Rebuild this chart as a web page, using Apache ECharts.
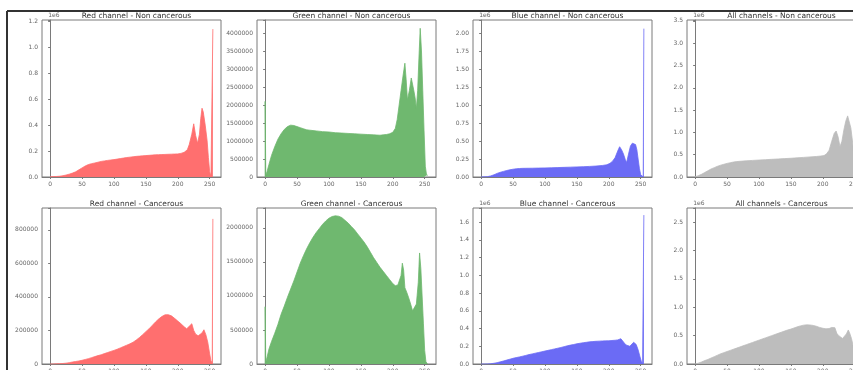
<!DOCTYPE html>
<html><head><meta charset="utf-8">
<script src="https://cdn.jsdelivr.net/npm/echarts@6/dist/echarts.min.js"></script>
<style>html,body{margin:0;padding:0;background:#fff;overflow:hidden;width:853px;height:370px}#c{width:853px;height:370px}</style>
</head><body><div id="c"></div>
<script>
// ---------- DATA (values in millions of pixels) ----------
const titles = ["Red channel - Non cancerous","Green channel - Non cancerous","Blue channel - Non cancerous","All channels - Non cancerous",
                "Red channel - Cancerous","Green channel - Cancerous","Blue channel - Cancerous","All channels - Cancerous"];
const xTicks = [0,50,100,150,200,250];

const redNcX = [0,5,10,15,20,25,30,35,40,45,50,55,60,65,70,75,80,85,90,95,100,105,110,115,120,125,130,135,140,145,150,155,160,165,170,175,180,185,190,195,200,205,210,215,218,222,225,228,231,234,236,238,240,243,246,248,250,252,254,255];
const redNcY = [0.002,0.003,0.004,0.006,0.01,0.015,0.022,0.03,0.04,0.055,0.07,0.085,0.096,0.103,0.108,0.114,0.12,0.124,0.128,0.131,0.134,0.138,0.142,0.146,0.15,0.153,0.156,0.159,0.161,0.163,0.165,0.167,0.169,0.171,0.172,0.173,0.174,0.175,0.176,0.177,0.178,0.182,0.19,0.21,0.25,0.33,0.41,0.32,0.26,0.33,0.45,0.53,0.5,0.4,0.28,0.15,0.04,0.005,0.002,1.14];

const greenNcX = [0,0,1,3,6,10,15,20,25,30,35,40,45,50,55,60,65,70,75,80,90,100,110,120,130,140,150,160,170,180,185,190,195,200,204,207,210,213,216,219,221,223,226,229,231,233,235,237,239,241,243,245,247,249,251,253,255];
const greenNcY = [0,2.1,0.05,0.15,0.35,0.6,0.84,1.05,1.2,1.32,1.4,1.44,1.43,1.4,1.37,1.34,1.31,1.3,1.29,1.28,1.26,1.25,1.23,1.22,1.21,1.2,1.19,1.18,1.17,1.16,1.17,1.18,1.2,1.24,1.35,1.6,2.0,2.4,2.8,3.16,2.7,2.14,2.4,2.75,2.79,2.4,2.2,1.9,2.4,3.3,4.13,3.5,2.4,1.3,0.3,0.05,0.05];

const blueNcX = [0,5,10,15,20,25,30,35,40,45,50,55,60,65,70,80,90,100,110,120,130,140,150,160,170,180,190,197,202,206,210,214,217,220,223,226,228,231,234,237,240,242,244,246,248,250,252,254,255];
const blueNcY = [0.001,0.002,0.005,0.015,0.03,0.05,0.065,0.078,0.09,0.1,0.108,0.114,0.118,0.12,0.121,0.122,0.124,0.126,0.128,0.131,0.134,0.137,0.14,0.143,0.147,0.152,0.16,0.17,0.19,0.22,0.27,0.36,0.42,0.38,0.32,0.24,0.2,0.32,0.43,0.47,0.49,0.45,0.38,0.25,0.12,0.03,0.005,0.002,2.06];

const allNcX = [0,5,10,15,20,25,30,35,40,45,50,55,60,65,70,80,90,100,110,120,130,140,150,160,170,180,190,197,202,206,210,214,218,221,224,227,230,233,236,239,241,244,247,250,252,254,255];
const allNcY = [0.005,0.03,0.06,0.1,0.14,0.18,0.21,0.24,0.265,0.285,0.305,0.32,0.335,0.345,0.352,0.362,0.372,0.38,0.388,0.396,0.404,0.412,0.42,0.43,0.44,0.45,0.46,0.47,0.48,0.52,0.6,0.8,0.98,1.03,0.9,0.68,0.8,1.05,1.25,1.37,1.33,1.1,0.75,0.3,0.05,0.01,3.35];

const redCX = [0,5,10,15,20,25,30,35,40,45,50,55,60,65,70,75,80,85,90,95,100,105,110,115,120,125,130,135,140,145,150,155,160,165,170,175,180,185,190,195,200,205,210,214,218,222,225,228,232,235,238,241,244,247,250,252,254,255];
const redCY = [0,0,0.001,0.002,0.003,0.005,0.008,0.012,0.015,0.018,0.022,0.027,0.032,0.038,0.044,0.05,0.055,0.062,0.068,0.075,0.081,0.088,0.096,0.104,0.112,0.12,0.13,0.143,0.158,0.175,0.193,0.21,0.23,0.25,0.268,0.283,0.293,0.294,0.287,0.272,0.256,0.24,0.222,0.21,0.225,0.24,0.2,0.178,0.168,0.162,0.185,0.204,0.175,0.13,0.06,0.02,0.005,0.865];

const greenCX = [0,0,1,3,6,10,15,20,25,30,35,40,45,50,55,60,65,70,75,80,85,90,95,100,105,110,115,120,125,130,135,140,145,150,155,160,165,170,175,180,185,190,195,200,204,208,211,213,215,217,219,222,225,228,231,234,237,240,242,244,246,248,250,252,254,255];
const greenCY = [0,0.84,0.03,0.1,0.22,0.33,0.45,0.58,0.73,0.85,0.98,1.1,1.22,1.35,1.48,1.59,1.69,1.78,1.86,1.93,1.99,2.05,2.1,2.14,2.165,2.175,2.17,2.15,2.11,2.07,2.02,1.97,1.91,1.85,1.79,1.72,1.64,1.56,1.49,1.42,1.36,1.3,1.24,1.18,1.15,1.16,1.18,1.3,1.48,1.38,1.12,1.05,0.97,0.88,0.78,0.76,0.88,1.2,1.63,1.4,1.0,0.6,0.2,0.03,0.01,0.01];

const blueCX = [0,5,10,15,20,25,30,35,40,45,50,55,60,65,70,75,80,85,90,95,100,105,110,115,120,125,130,135,140,145,150,155,160,165,170,175,180,185,190,195,200,205,210,214,217,219,221,224,227,230,233,236,239,241,243,246,249,251,253,254,255];
const blueCY = [0,0,0.001,0.003,0.008,0.015,0.024,0.034,0.044,0.054,0.064,0.072,0.08,0.088,0.097,0.106,0.114,0.122,0.13,0.138,0.146,0.154,0.162,0.17,0.178,0.186,0.196,0.205,0.213,0.22,0.228,0.234,0.24,0.245,0.25,0.253,0.256,0.258,0.26,0.261,0.262,0.265,0.268,0.272,0.282,0.285,0.27,0.24,0.215,0.205,0.2,0.215,0.245,0.25,0.22,0.16,0.08,0.03,0.005,0.002,1.68];

const allCX = [0,5,10,15,20,25,30,35,40,45,50,55,60,65,70,75,80,85,90,95,100,105,110,115,120,125,130,135,140,145,150,155,160,165,170,175,180,185,190,195,200,205,210,214,217,219,222,225,228,231,234,237,240,242,245,248,251,253,255];
const allCY = [0,0.015,0.035,0.06,0.08,0.105,0.13,0.155,0.18,0.2,0.22,0.24,0.26,0.28,0.3,0.32,0.34,0.36,0.38,0.4,0.42,0.44,0.46,0.48,0.5,0.52,0.54,0.56,0.58,0.6,0.615,0.635,0.655,0.672,0.685,0.69,0.688,0.68,0.665,0.645,0.63,0.62,0.625,0.645,0.665,0.64,0.54,0.5,0.47,0.45,0.47,0.53,0.6,0.55,0.45,0.3,0.1,0.02,2.6];

// y-axis settings per panel (max, interval, label style)
const yMax      = [1.21, 4.36, 2.18, 3.52, 0.93, 2.29, 1.76, 2.75];
const yInterval = [0.2, 0.5, 0.25, 0.5, 0.2, 0.5, 0.2, 0.5];
const yDecimals = [1, -1, 2, 1, -1, -1, 1, 1]; // -1 => plain integer counts, else 1e6 offset

// ---------- LAYOUT ----------
const seriesX = [redNcX, greenNcX, blueNcX, allNcX, redCX, greenCX, blueCX, allCX];
const seriesY = [redNcY, greenNcY, blueNcY, allNcY, redCY, greenCY, blueCY, allCY];
const colors = ['#ff6f6f','#6fb86f','#6b6bf5','#bdbdbd','#ff6f6f','#6fb86f','#6b6bf5','#bdbdbd'];
const lefts = [42, 257, 473, 687];
const tops = [20, 208];
const heights = [157, 156];
const W = 179;
const FONT = 'DejaVu Sans';

const grids = [], xAxes = [], yAxes = [], series = [], titleArr = [];
for (let i = 0; i < 8; i++) {
  const r = Math.floor(i / 4), c = i % 4;
  grids.push({left: lefts[c], top: tops[r], width: W, height: heights[r], show: true,
    borderColor: '#7a7a7a', borderWidth: 1, containLabel: false, outerBoundsMode: 'none'});
  xAxes.push({type: 'value', gridIndex: i, min: -12.75, max: 267.75,
    splitLine: {show: false},
    axisLine: {lineStyle: {color: '#7a7a7a'}},
    axisTick: {length: 2, lineStyle: {color: '#7a7a7a'}, customValues: xTicks},
    axisLabel: {fontSize: 6, fontFamily: FONT, color: '#666', margin: 4, customValues: xTicks,
      formatter: v => String(Math.round(v))}});
  const iv = yInterval[i], dec = yDecimals[i];
  yAxes.push({type: 'value', gridIndex: i, min: 0, max: yMax[i], interval: iv,
    splitLine: {show: false},
    axisLine: {show: true, lineStyle: {color: '#7a7a7a'}},
    axisTick: {show: true, length: 2, lineStyle: {color: '#7a7a7a'}},
    name: dec >= 0 ? '1e6' : '', nameLocation: 'end', nameGap: 2,
    nameTextStyle: {fontSize: 6, fontFamily: FONT, color: '#666', align: 'left', padding: [0,0,0,-2]},
    axisLabel: {fontSize: 6, fontFamily: FONT, color: '#666', margin: 4,
      formatter: v => {
        const k = v / iv;
        if (Math.abs(k - Math.round(k)) > 1e-6) return '';
        return dec < 0 ? String(Math.round(v * 1e6)) : v.toFixed(dec);
      }}});
  series.push({type: 'line', xAxisIndex: i, yAxisIndex: i, showSymbol: false, symbol: 'none',
    data: seriesX[i].map((x, j) => [x, seriesY[i][j]]),
    lineStyle: {width: 0.8, color: colors[i]}, itemStyle: {color: colors[i]},
    areaStyle: {color: colors[i], opacity: 1}, clip: true, silent: true, animation: false});
  titleArr.push({text: titles[i], left: lefts[c] + W / 2, top: r === 0 ? 7 : 195, textAlign: 'center',
    textStyle: {fontSize: 7.5, fontWeight: 'normal', fontFamily: FONT, color: '#333'}});
}

const chart = echarts.init(document.getElementById('c'), null, {renderer: 'canvas'});
chart.setOption({
  animation: false,
  backgroundColor: '#fff',
  title: titleArr,
  grid: grids, xAxis: xAxes, yAxis: yAxes, series: series,
  graphic: [
    {type: 'line', shape: {x1: 7, y1: 11, x2: 853, y2: 11}, style: {stroke: '#333', lineWidth: 2}, z: 100},
    {type: 'line', shape: {x1: 7, y1: 11, x2: 7, y2: 370}, style: {stroke: '#333', lineWidth: 2}, z: 100}
  ]
});
</script></body></html>
